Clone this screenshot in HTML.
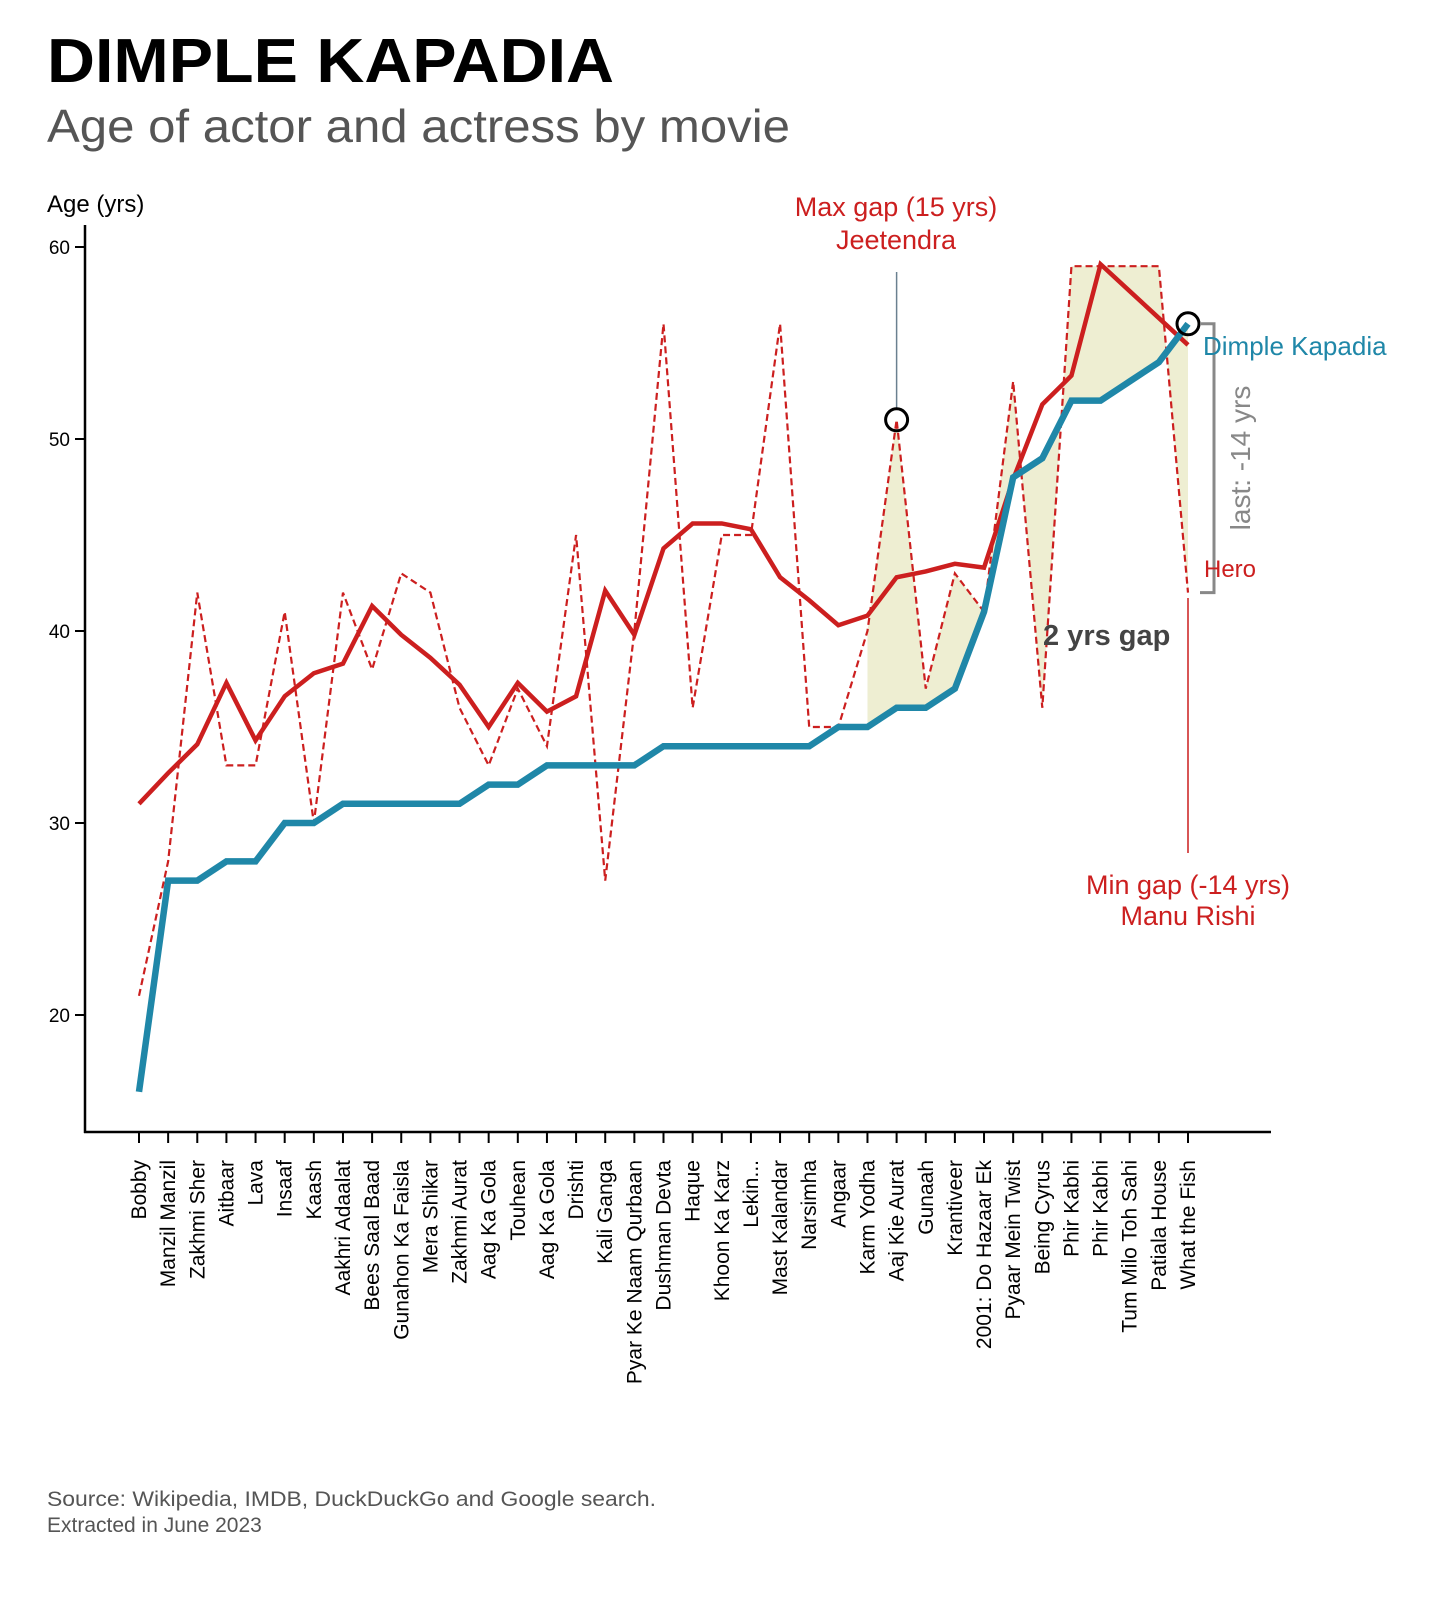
<!DOCTYPE html>
<html><head><meta charset="utf-8">
<style>
body{margin:0;background:#fff;font-family:"Liberation Sans",sans-serif;}
svg text{font-family:"Liberation Sans",sans-serif;}
</style></head>
<body>
<svg id="chart" width="1454" height="1595" viewBox="0 0 1454 1595" xmlns="http://www.w3.org/2000/svg">
<text x="47" y="82" font-size="62" font-weight="bold" fill="#000" textLength="567" lengthAdjust="spacingAndGlyphs">DIMPLE KAPADIA</text>
<text x="47" y="142" font-size="46" fill="#555" textLength="743" lengthAdjust="spacingAndGlyphs">Age of actor and actress by movie</text>
<text x="47" y="212" font-size="24" fill="#000">Age (yrs)</text>
<text x="47" y="1506" font-size="21" fill="#555" textLength="609" lengthAdjust="spacingAndGlyphs">Source: Wikipedia, IMDB, DuckDuckGo and Google search.</text>
<text x="47" y="1532" font-size="21" fill="#555">Extracted in June 2023</text>
<g id="plot"></g>
</svg>
<script>
const movies=["Bobby","Manzil Manzil","Zakhmi Sher","Aitbaar","Lava","Insaaf","Kaash","Aakhri Adaalat","Bees Saal Baad","Gunahon Ka Faisla","Mera Shikar","Zakhmi Aurat","Aag Ka Gola","Touhean","Aag Ka Gola","Drishti","Kali Ganga","Pyar Ke Naam Qurbaan","Dushman Devta","Haque","Khoon Ka Karz","Lekin...","Mast Kalandar","Narsimha","Angaar","Karm Yodha","Aaj Kie Aurat","Gunaah","Krantiveer","2001: Do Hazaar Ek","Pyaar Mein Twist","Being Cyrus","Phir Kabhi","Phir Kabhi","Tum Milo Toh Sahi","Patiala House","What the Fish"];
const actressAge=[16,27,27,28,28,30,30,31,31,31,31,31,32,32,33,33,33,33,34,34,34,34,34,34,35,35,36,36,37,41,48,49,52,52,53,54,56];
const actorAge=[21,28,42,33,33,41,30,42,38,43,42,36,33,37,34,45,27,40,56,36,45,45,56,35,35,40,51,37,43,41,53,36,59,59,59,59,42];
const actorTrend=[31,32.6,34.1,37.3,34.3,36.6,37.8,38.3,41.3,39.8,38.6,37.2,35,37.3,35.8,36.6,42.1,39.8,44.3,45.6,45.6,45.3,42.8,41.6,40.3,40.8,42.8,43.1,43.5,43.3,47.9,51.8,53.3,59.1,57.7,56.3,54.9];
const yTicks=[20,30,40,50,60];
const fillStart=25;
const NS="http://www.w3.org/2000/svg";
const g=document.getElementById('plot');
const X=i=>139+i*(1188-139)/36;
const Y=v=>1015-(v-20)*19.2;
function mk(tag,attrs,parent){const e=document.createElementNS(NS,tag);for(const k in attrs)e.setAttribute(k,attrs[k]);(parent||g).appendChild(e);return e;}
let pts=[];
for(let i=fillStart;i<movies.length;i++)pts.push(X(i)+","+Y(actorAge[i]));
for(let i=movies.length-1;i>=fillStart;i--)pts.push(X(i)+","+Y(actressAge[i]));
let f=mk('polygon',{points:pts.join(" "),fill:"#eeeed2",stroke:"none"});


let ya=mk('line',{x1:85,y1:225,x2:85,y2:1133,stroke:"#000","stroke-width":2.5});


let xa=mk('line',{x1:84,y1:1132,x2:1271,y2:1132,stroke:"#000","stroke-width":2.5});


yTicks.forEach(t=>{
 mk('line',{x1:75,y1:Y(t),x2:85,y2:Y(t),stroke:"#000","stroke-width":2});
 let tx=mk('text',{x:70,y:Y(t)+7,"font-size":19,"text-anchor":"end",fill:"#000"});tx.textContent=t;
 
 
});
movies.forEach((m,i)=>{
 mk('line',{x1:X(i),y1:1132,x2:X(i),y2:1143,stroke:"#000","stroke-width":2});
 let tx=mk('text',{x:0,y:0,"font-size":21,"text-anchor":"end",fill:"#000",transform:`translate(${X(i)+7},1160) rotate(-90)`});
 tx.textContent=m;
 
 
});
const path=arr=>arr.map((v,i)=>(i?"L":"M")+X(i)+","+Y(v)).join(" ");
let d1=mk('path',{d:path(actorAge),fill:"none",stroke:"#cc1f1f","stroke-width":2.2,"stroke-dasharray":"7,4"});


let d2=mk('path',{d:path(actorTrend),fill:"none",stroke:"#cc1f1f","stroke-width":4.5});


let d3=mk('path',{d:path(actressAge),fill:"none",stroke:"#1f87a8","stroke-width":6.5});


const maxI=26,last=36;
let l1=mk('line',{x1:X(maxI),y1:272,x2:X(maxI),y2:Y(actorAge[maxI])-12,stroke:"#6a8090","stroke-width":1.5});


let c1=mk('circle',{cx:X(maxI),cy:Y(actorAge[maxI]),r:11,fill:"none",stroke:"#000","stroke-width":3});


let c2=mk('circle',{cx:X(last),cy:Y(actressAge[last]),r:11,fill:"none",stroke:"#000","stroke-width":3});


let l2=mk('line',{x1:X(last),y1:598,x2:X(last),y2:853,stroke:"#cc1f1f","stroke-width":1.5});


let br=mk('path',{d:`M1200,${Y(actressAge[last])} H1214 V${Y(actorAge[last])} H1200`,fill:"none",stroke:"#888","stroke-width":3});


function txt(s,x,y,size,fill,name,extra){let t=mk('text',Object.assign({x:x,y:y,"font-size":size,fill:fill},extra||{}));t.textContent=s;return t;}
txt("Max gap (15 yrs)",896,216,27,"#cc1f1f","max-gap-label",{"text-anchor":"middle"});
txt("Jeetendra",896,249,27,"#cc1f1f","max-gap-actor",{"text-anchor":"middle"});
txt("Min gap (-14 yrs)",1188,894,27,"#cc1f1f","min-gap-label",{"text-anchor":"middle"});
txt("Manu Rishi",1188,925,27,"#cc1f1f","min-gap-actor",{"text-anchor":"middle"});
txt("Dimple Kapadia",1203,355,26,"#1f87a8","actress-label");
txt("Hero",1204,577,24,"#cc1f1f","actor-label");
txt("2 yrs gap",1043,645,29,"#444","gap-label",{"font-weight":"bold"});
txt("last: -14 yrs",0,0,28,"#888","last-gap-label",{"text-anchor":"middle",transform:"translate(1250,458) rotate(-90)"});
</script>
</body></html>
